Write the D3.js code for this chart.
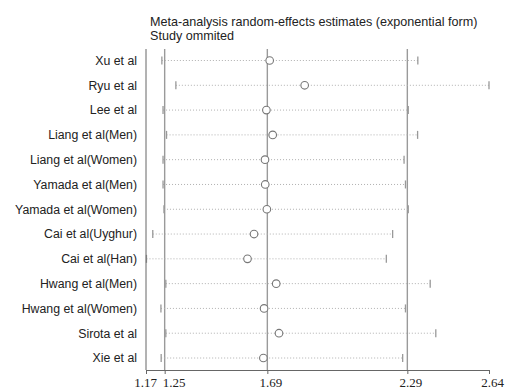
<!DOCTYPE html>
<html>
<head>
<meta charset="utf-8">
<script src="https://cdn.jsdelivr.net/npm/d3@7"></script>
<style>
  body { margin: 0; background: #fff; }
</style>
</head>
<body>
<div id="chart"></div>
<script>
// study omitted, estimate and 95% CI
var studies = ["Xu et al", "Ryu et al", "Lee et al", "Liang et al(Men)", "Liang et al(Women)",
    "Yamada et al(Men)", "Yamada et al(Women)", "Cai et al(Uyghur)", "Cai et al(Han)",
    "Hwang et al(Men)", "Hwang et al(Women)", "Sirota et al", "Xie et al"];
var estimates = [1.70, 1.85, 1.686, 1.713, 1.680, 1.681, 1.688, 1.633, 1.605, 1.728, 1.676, 1.740, 1.673];
var lowerCI = [1.238, 1.298, 1.243, 1.258, 1.243, 1.243, 1.247, 1.199, 1.172, 1.255, 1.234, 1.255, 1.235];
var upperCI = [2.335, 2.64, 2.294, 2.334, 2.276, 2.282, 2.294, 2.227, 2.200, 2.388, 2.282, 2.412, 2.270];
var refLines = [1.25, 1.69, 2.29];
var tickValues = [1.17, 1.25, 1.69, 2.29, 2.64];
var titleLines = ["Meta-analysis random-effects estimates (exponential form)", "Study ommited"];

var width = 508, height = 392;
var plotTop = 49, plotBottom = 370;

var svg = d3.select("#chart").append("svg")
    .attr("width", width)
    .attr("height", height);

var x = d3.scaleLinear()
    .domain([1.17, 2.64])
    .range([146, 489]);

var y = d3.scalePoint()
    .domain(studies)
    .range([60.5, 358]);

// title
svg.selectAll(".title")
    .data(titleLines)
    .enter().append("text")
    .attr("x", 150)
    .attr("y", function (d, i) { return 26 + i * 14; })
    .style("font-family", "Arial, 'Liberation Sans', sans-serif")
    .style("font-size", "12.6px")
    .attr("fill", "#222")
    .text(function (d) { return d; });

// reference lines (overall estimate + CI)
svg.selectAll(".ref")
    .data(refLines)
    .enter().append("line")
    .attr("x1", function (d) { return x(d); })
    .attr("x2", function (d) { return x(d); })
    .attr("y1", plotTop)
    .attr("y2", plotBottom)
    .attr("stroke", "#9a9a9a")
    .attr("stroke-width", 1.4);

// dotted CI lines
var rows = studies.map(function (s, i) {
    return { name: s, est: estimates[i], lo: lowerCI[i], hi: upperCI[i] };
});

svg.selectAll(".ci")
    .data(rows)
    .enter().append("line")
    .attr("x1", function (d) { return x(d.lo); })
    .attr("x2", function (d) { return x(d.hi); })
    .attr("y1", function (d) { return y(d.name); })
    .attr("y2", function (d) { return y(d.name); })
    .attr("stroke", "#b0b0b0")
    .attr("stroke-width", 1)
    .attr("stroke-dasharray", "1,2");

// CI end bars
["lo", "hi"].forEach(function (k) {
    svg.selectAll(".bar-" + k)
        .data(rows)
        .enter().append("line")
        .attr("x1", function (d) { return x(d[k]); })
        .attr("x2", function (d) { return x(d[k]); })
        .attr("y1", function (d) { return y(d.name) - 4; })
        .attr("y2", function (d) { return y(d.name) + 4; })
        .attr("stroke", "#999")
        .attr("stroke-width", 1.3);
});

// estimates
svg.selectAll(".est")
    .data(rows)
    .enter().append("circle")
    .attr("cx", function (d) { return x(d.est); })
    .attr("cy", function (d) { return y(d.name); })
    .attr("r", 3.8)
    .attr("fill", "#fff")
    .attr("stroke", "#777")
    .attr("stroke-width", 1.1);

// study labels
svg.selectAll(".label")
    .data(studies)
    .enter().append("text")
    .attr("x", 137)
    .attr("y", function (d) { return y(d); })
    .attr("dy", "0.35em")
    .attr("text-anchor", "end")
    .style("font-family", "Arial, 'Liberation Sans', sans-serif")
    .style("font-size", "12.3px")
    .attr("fill", "#222")
    .text(function (d) { return d; });

// left axis line
svg.append("line")
    .attr("x1", x(1.17))
    .attr("x2", x(1.17))
    .attr("y1", plotTop)
    .attr("y2", plotBottom)
    .attr("stroke", "#666")
    .attr("stroke-width", 1);

// bottom axis
var xAxis = svg.append("g")
    .attr("transform", "translate(0," + plotBottom + ")")
    .call(d3.axisBottom(x).tickValues(tickValues).tickSize(4).tickPadding(4)
        .tickFormat(d3.format(".2f")));

xAxis.select(".domain").attr("stroke", "#666");
xAxis.selectAll(".tick line").attr("stroke", "#666");
// the two left labels sit close together, nudge them apart like the original
xAxis.selectAll(".tick text")
    .attr("dx", function (d, i) { return i === 0 ? -1 : (i === 1 ? 9 : 3); })
    .style("font-family", "'Liberation Serif', 'Times New Roman', serif")
    .style("font-size", "13px")
    .attr("fill", "#222");
</script>
</body>
</html>
